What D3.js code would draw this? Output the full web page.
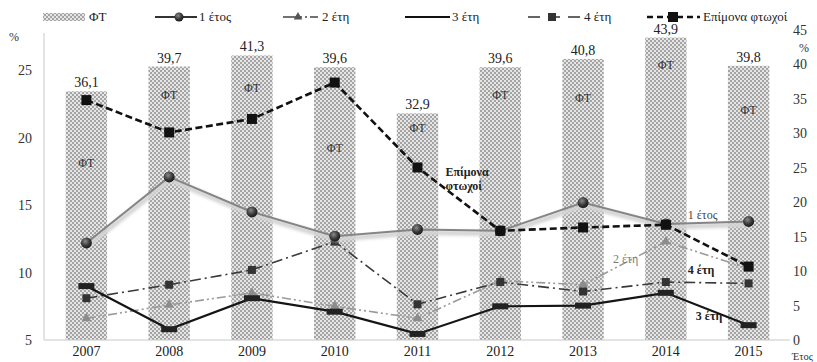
<!DOCTYPE html>
<html>
<head>
<meta charset="utf-8">
<script src="https://cdn.jsdelivr.net/npm/d3@7"></script>
<style>
  html, body { margin: 0; padding: 0; background: #fff; }
  svg { display: block; }
  svg text { font-family: "Liberation Serif", "Times New Roman", Tinos, "DejaVu Serif", serif !important; }
</style>
</head>
<body>
<svg id="chart" width="817" height="362"></svg>
<script>
// Years on the horizontal axis
const years = ["2007", "2008", "2009", "2010", "2011", "2012", "2013", "2014", "2015"];
// ΦΤ bars (right axis, %)
const ftValues = [36.1, 39.7, 41.3, 39.6, 32.9, 39.6, 40.8, 43.9, 39.8];
// Level (right-axis %) at which the "ΦΤ" tag is written inside each bar
const ftTagAt = [25.7, 35.6, 36.6, 27.9, 30.8, 35.6, 35.1, 39.9, 33.4];
// Line series (left axis, %)
const oneYear    = [12.2, 17.1, 14.5, 12.7, 13.2, 13.1, 15.2, 13.6, 13.8];
const twoYears   = [6.6, 7.6, 8.5, 7.5, 6.6, 9.4, 9.1, 12.3, 10.3];
const threeYears = [9.0, 5.8, 8.1, 7.1, 5.45, 7.5, 7.55, 8.5, 6.1];
const fourYears  = [8.1, 9.1, 10.2, 12.3, 7.65, 9.3, 8.6, 9.3, 9.2];
const persistent = [22.8, 20.4, 21.4, 24.1, 17.8, 13.1, 13.35, 13.55, 10.45];
// Axis ticks
const leftTicks  = [5, 10, 15, 20, 25];
const rightTicks = [0, 5, 10, 15, 20, 25, 30, 35, 40, 45];

const svg = d3.select("#chart");
const defs = svg.append("defs");

// Dotted checker fill for the bars
const pat = defs.append("pattern")
  .attr("id", "ftPattern").attr("patternUnits", "userSpaceOnUse")
  .attr("width", 4).attr("height", 4);
pat.append("rect").attr("width", 4).attr("height", 4).attr("fill", "#a4a4a4");
pat.append("rect").attr("x", 0).attr("y", 0).attr("width", 2).attr("height", 2).attr("fill", "#e6e6e6");
pat.append("rect").attr("x", 2).attr("y", 2).attr("width", 2).attr("height", 2).attr("fill", "#e6e6e6");

// Shaded sphere for the "1 έτος" markers
const rg = defs.append("radialGradient").attr("id", "ball").attr("cx", "40%").attr("cy", "35%").attr("r", "65%");
rg.append("stop").attr("offset", "0%").attr("stop-color", "#8a8a8a");
rg.append("stop").attr("offset", "60%").attr("stop-color", "#3a3a3a");
rg.append("stop").attr("offset", "100%").attr("stop-color", "#1a1a1a");

const blur = defs.append("filter").attr("id", "soft").attr("x", "-20%").attr("y", "-50%").attr("width", "140%").attr("height", "200%");
blur.append("feGaussianBlur").attr("stdDeviation", 1.5);

const x = d3.scaleBand().domain(years).range([45, 790]).paddingInner(0.5).paddingOuter(0.25);
const cx = d => x(d) + x.bandwidth() / 2;
const yL = d3.scaleLinear().domain([5, 28]).range([340, 30]);
const yR = d3.scaleLinear().domain([0, 45]).range([340, 30]);

// Bars
svg.append("g").selectAll("rect").data(ftValues).join("rect")
  .attr("x", (d, i) => x(years[i]))
  .attr("y", d => yR(d))
  .attr("width", x.bandwidth())
  .attr("height", d => yR(0) - yR(d))
  .attr("fill", "url(#ftPattern)");

// Value labels above the bars
svg.append("g").selectAll("text").data(ftValues).join("text")
  .attr("x", (d, i) => cx(years[i]))
  .attr("y", d => yR(d) - 4)
  .attr("text-anchor", "middle")
  .attr("font-size", 14).attr("fill", "#222")
  .text(d => d3.format(".1f")(d).replace(".", ","));

// "ΦΤ" tags inside the bars
svg.append("g").selectAll("text").data(ftTagAt).join("text")
  .attr("x", (d, i) => cx(years[i]))
  .attr("y", d => yR(d) + 4)
  .attr("text-anchor", "middle")
  .attr("font-size", 12).attr("fill", "#333")
  .text("ΦΤ");

// Axes
const axL = svg.append("g").attr("transform", "translate(44,0)")
  .call(d3.axisLeft(yL).tickValues(leftTicks).tickSize(0).tickPadding(12));
axL.select(".domain").attr("stroke", "#c8c8c8").attr("d", "M0,33V340");
axL.selectAll("text").attr("font-size", 14).attr("fill", "#333");

const axR = svg.append("g").attr("transform", "translate(790,0)")
  .call(d3.axisRight(yR).tickValues(rightTicks).tickSize(0).tickPadding(3));
axR.select(".domain").remove();
axR.selectAll("text").attr("font-size", 14).attr("fill", "#333");

const axX = svg.append("g").attr("transform", "translate(0,340)")
  .call(d3.axisBottom(x).tickSize(0).tickPadding(6));
axX.select(".domain").attr("stroke", "#c8c8c8").attr("d", "M44,0H790");
axX.selectAll("text").attr("font-size", 14).attr("fill", "#222");

svg.append("text").attr("x", 9).attr("y", 41).attr("font-size", 12).attr("fill", "#333").text("%");
svg.append("text").attr("x", 799).attr("y", 52).attr("font-size", 12).attr("fill", "#333").text("%");
svg.append("text").attr("x", 792).attr("y", 360).attr("font-size", 10.5).attr("fill", "#333").text("Έτος");

const lineL = d3.line().x((d, i) => cx(years[i])).y(d => yL(d));

// Series drawing helper
function drawLine(values, stroke, width, dash, shadow) {
  const g = svg.append("g");
  if (shadow) {
    g.append("path").datum(values).attr("d", lineL)
      .attr("transform", "translate(1,3)")
      .attr("fill", "none").attr("stroke", shadow).attr("stroke-width", width + 3)
      .attr("filter", "url(#soft)");
  }
  g.append("path").datum(values).attr("d", lineL)
    .attr("fill", "none").attr("stroke", stroke).attr("stroke-width", width)
    .attr("stroke-dasharray", dash || null);
  return g;
}

// 2 έτη
drawLine(twoYears, "#9a9a9a", 1.6, "9,3,2,3,2,3");
svg.append("g").selectAll("path").data(twoYears).join("path")
  .attr("transform", (d, i) => `translate(${cx(years[i])},${yL(d)})`)
  .attr("d", d3.symbol(d3.symbolTriangle, 42))
  .attr("fill", "#8c8c8c");

// 4 έτη
drawLine(fourYears, "#3a3a3a", 1.6, "11,4,2,4");
svg.append("g").selectAll("rect").data(fourYears).join("rect")
  .attr("x", (d, i) => cx(years[i]) - 4).attr("y", d => yL(d) - 4)
  .attr("width", 8).attr("height", 8).attr("fill", "#333");

// 3 έτη
drawLine(threeYears, "#151515", 2.2, null);
svg.append("g").selectAll("rect").data(threeYears).join("rect")
  .attr("x", (d, i) => cx(years[i]) - 8).attr("y", d => yL(d) - 3)
  .attr("width", 16).attr("height", 6).attr("fill", "#222");

// 1 έτος
drawLine(oneYear, "#858585", 2, null, "#d4d4d4");
svg.append("g").selectAll("circle").data(oneYear).join("circle")
  .attr("cx", (d, i) => cx(years[i])).attr("cy", d => yL(d))
  .attr("r", 5.5).attr("fill", "url(#ball)");

// Επίμονα φτωχοί
drawLine(persistent, "#111", 2.6, "7,3.5");
svg.append("g").selectAll("rect").data(persistent).join("rect")
  .attr("x", (d, i) => cx(years[i]) - 5).attr("y", d => yL(d) - 5)
  .attr("width", 10).attr("height", 10).attr("fill", "#111");

// Series labels next to the lines
const lbl = (tx, ty, t, bold, fill) => svg.append("text").attr("x", tx).attr("y", ty)
  .attr("font-size", 12).attr("font-weight", bold ? "bold" : "normal")
  .attr("fill", fill || "#222").text(t);
lbl(cx("2011") + 28, yL(17.5) + 4, "Επίμονα", true);
lbl(cx("2011") + 28, yL(16.4) + 4, "φτωχοί", true);
lbl(cx("2014") + 22, yL(14.3) + 4, "1 έτος", false, "#444");
lbl(cx("2013") + 30, yL(11.0) + 4, "2 έτη", false, "#7a7a7a");
lbl(cx("2014") + 22, yL(10.2) + 4, "4 έτη", true);
lbl(cx("2014") + 30, yL(6.8) + 4, "3 έτη", true);

// Legend
const lg = svg.append("g").attr("font-size", 13).attr("fill", "#222");
const ly = 17;
lg.append("rect").attr("x", 43).attr("y", ly - 4).attr("width", 42).attr("height", 8).attr("fill", "url(#ftPattern)");
lg.append("text").attr("x", 89).attr("y", ly + 4).text("ΦΤ");

lg.append("line").attr("x1", 155).attr("x2", 197).attr("y1", ly).attr("y2", ly).attr("stroke", "#333").attr("stroke-width", 2);
lg.append("circle").attr("cx", 179).attr("cy", ly).attr("r", 4.5).attr("fill", "url(#ball)");
lg.append("text").attr("x", 199).attr("y", ly + 4).text("1 έτος");

lg.append("line").attr("x1", 283).attr("x2", 318).attr("y1", ly).attr("y2", ly).attr("stroke", "#444").attr("stroke-width", 1.6).attr("stroke-dasharray", "14,3,2,3,2,3");
lg.append("path").attr("transform", `translate(298,${ly})`).attr("d", d3.symbol(d3.symbolTriangle, 32)).attr("fill", "#555");
lg.append("text").attr("x", 322).attr("y", ly + 4).text("2 έτη");

lg.append("line").attr("x1", 405).attr("x2", 450).attr("y1", ly).attr("y2", ly).attr("stroke", "#111").attr("stroke-width", 2);
lg.append("text").attr("x", 452).attr("y", ly + 4).text("3 έτη");

lg.append("line").attr("x1", 528).attr("x2", 580).attr("y1", ly).attr("y2", ly).attr("stroke", "#333").attr("stroke-width", 1.6).attr("stroke-dasharray", "12,8");
lg.append("rect").attr("x", 548).attr("y", ly - 4).attr("width", 8).attr("height", 8).attr("fill", "#333");
lg.append("text").attr("x", 584).attr("y", ly + 4).text("4 έτη");

lg.append("line").attr("x1", 647).attr("x2", 700).attr("y1", ly).attr("y2", ly).attr("stroke", "#111").attr("stroke-width", 2.5).attr("stroke-dasharray", "6,4");
lg.append("rect").attr("x", 668).attr("y", ly - 5).attr("width", 10).attr("height", 10).attr("fill", "#111");
lg.append("text").attr("x", 703).attr("y", ly + 4).text("Επίμονα φτωχοί");
</script>
</body>
</html>
